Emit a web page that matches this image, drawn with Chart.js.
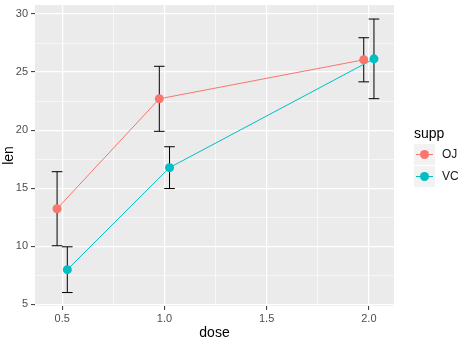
<!DOCTYPE html>
<html>
<head>
<meta charset="utf-8">
<script src="https://cdn.jsdelivr.net/npm/chart.js@4/dist/chart.umd.min.js"></script>
<style>
  html, body { margin: 0; padding: 0; background: #fff; }
  #wrap { width: 461px; height: 344px; position: relative; }
</style>
</head>
<body>
<div id="wrap"><canvas id="toothChart"></canvas></div>
<script>
// ToothGrowth: mean len with 95% CI, by dose and supp
const doses = [0.5, 1, 2];
const supps = ['OJ', 'VC'];
const ojMean = [13.23, 22.70, 26.06];
const vcMean = [7.98, 16.77, 26.14];
const ojLow = [10.04, 19.90, 24.16];
const ojHigh = [16.42, 25.50, 27.96];
const vcLow = [6.01, 14.97, 22.71];
const vcHigh = [9.95, 18.57, 29.57];
const xTicks = [0.5, 1.0, 1.5, 2.0];
const yTicks = [5, 10, 15, 20, 25, 30];

const dodge = 0.025;      // position_dodge half-width
const capHalf = 0.026;    // errorbar cap half-width
const colors = ['#F8766D', '#00BFC4'];

const means = [ojMean, vcMean];
const lows = [ojLow, vcLow];
const highs = [ojHigh, vcHigh];
const offsets = [-dodge, dodge];

const xMinor = [0.75, 1.25, 1.75];
const yMinor = [7.5, 12.5, 17.5, 22.5, 27.5];
const isMajorX = v => xTicks.some(t => Math.abs(t - v) < 1e-9);
const isMajorY = v => yTicks.some(t => Math.abs(t - v) < 1e-9);

const panelBg = {
    id: 'panelBg',
    beforeDraw(chart) {
        const { ctx, chartArea: a } = chart;
        ctx.save();
        ctx.fillStyle = '#EBEBEB';
        ctx.fillRect(a.left, a.top, a.right - a.left, a.bottom - a.top);
        ctx.restore();
    }
};

const errorBars = {
    id: 'errorBars',
    beforeDatasetsDraw(chart) {
        const { ctx, scales: { x, y } } = chart;
        ctx.save();
        ctx.strokeStyle = '#000000';
        ctx.lineWidth = 1;
        supps.forEach((s, i) => {
            doses.forEach((d, j) => {
                const xc = x.getPixelForValue(d + offsets[i]);
                const x0 = x.getPixelForValue(d + offsets[i] - capHalf);
                const x1 = x.getPixelForValue(d + offsets[i] + capHalf);
                const yl = y.getPixelForValue(lows[i][j]);
                const yh = y.getPixelForValue(highs[i][j]);
                ctx.beginPath();
                ctx.moveTo(xc, yl); ctx.lineTo(xc, yh);
                ctx.moveTo(x0, yl); ctx.lineTo(x1, yl);
                ctx.moveTo(x0, yh); ctx.lineTo(x1, yh);
                ctx.stroke();
            });
        });
        ctx.restore();
    }
};

const ggLegend = {
    id: 'ggLegend',
    afterDraw(chart) {
        const ctx = chart.ctx;
        const left = 414, top = 144, key = 21;
        ctx.save();
        ctx.fillStyle = '#000000';
        ctx.font = '14px "Liberation Sans", Arial, sans-serif';
        ctx.textAlign = 'left';
        ctx.textBaseline = 'middle';
        ctx.fillText('supp', left, 134);
        chart.data.datasets.forEach((ds, i) => {
            const ky = top + i * (key + 1);
            ctx.fillStyle = '#F2F2F2';
            ctx.fillRect(left, ky, key, key);
            const cy = ky + key / 2;
            ctx.strokeStyle = ds.borderColor;
            ctx.lineWidth = 1;
            ctx.beginPath();
            ctx.moveTo(left + 2, cy); ctx.lineTo(left + key - 2, cy);
            ctx.stroke();
            ctx.fillStyle = ds.backgroundColor;
            ctx.beginPath();
            ctx.arc(left + key / 2, cy, 4.5, 0, Math.PI * 2);
            ctx.fill();
            ctx.fillStyle = '#1A1A1A';
            ctx.font = '12px "Liberation Sans", Arial, sans-serif';
            ctx.fillText(ds.label, left + key + 7, cy);
        });
        ctx.restore();
    }
};

const datasets = supps.map((s, i) => ({
    label: s,
    data: doses.map((d, j) => ({ x: d + offsets[i], y: means[i][j] })),
    borderColor: colors[i],
    backgroundColor: colors[i],
    borderWidth: 1,
    pointRadius: 4.5,
    pointBorderWidth: 0,
    pointHoverRadius: 4.5,
    tension: 0,
    fill: false
}));

const tickFont = { family: '"Liberation Sans", Arial, sans-serif', size: 11 };
const titleFont = { family: '"Liberation Sans", Arial, sans-serif', size: 14, lineHeight: 1 };

new Chart(document.getElementById('toothChart'), {
    type: 'line',
    data: { datasets },
    options: {
        responsive: true,
        maintainAspectRatio: false,
        animation: false,
        layout: { padding: { top: 5, right: 67, left: 0, bottom: 0 } },
        plugins: {
            legend: { display: false },
            tooltip: { enabled: false }
        },
        scales: {
            x: {
                type: 'linear',
                min: 0.367,
                max: 2.123,
                afterBuildTicks: scale => {
                    scale.ticks = xTicks.concat(xMinor).sort((a, b) => a - b).map(v => ({ value: v }));
                },
                afterFit: scale => {
                    scale.height = 38;
                    scale.paddingLeft = 0;
                    scale.paddingRight = 0;
                },
                ticks: {
                    autoSkip: false,
                    maxRotation: 0,
                    padding: 2,
                    color: '#4D4D4D',
                    font: tickFont,
                    callback: v => isMajorX(v) ? v.toFixed(1) : ''
                },
                grid: {
                    color: '#FFFFFF',
                    lineWidth: c => isMajorX(c.tick.value) ? 1.2 : 0.6,
                    tickColor: c => isMajorX(c.tick.value) ? '#333333' : 'rgba(0,0,0,0)',
                    tickLength: 4,
                    tickWidth: 1
                },
                border: { display: false },
                title: { display: true, text: 'dose', color: '#000000', font: titleFont, padding: { top: 0, bottom: 4 } }
            },
            y: {
                type: 'linear',
                min: 4.85,
                max: 30.78,
                afterBuildTicks: scale => {
                    scale.ticks = yTicks.concat(yMinor).sort((a, b) => a - b).map(v => ({ value: v }));
                },
                afterFit: scale => {
                    scale.width = 35;
                    scale.paddingTop = 0;
                    scale.paddingBottom = 0;
                },
                ticks: {
                    autoSkip: false,
                    padding: 3,
                    color: '#4D4D4D',
                    font: tickFont,
                    callback: v => isMajorY(v) ? String(v) : ''
                },
                grid: {
                    color: '#FFFFFF',
                    lineWidth: c => isMajorY(c.tick.value) ? 1.2 : 0.6,
                    tickColor: c => isMajorY(c.tick.value) ? '#333333' : 'rgba(0,0,0,0)',
                    tickLength: 4,
                    tickWidth: 1
                },
                border: { display: false },
                title: { display: true, text: 'len', color: '#000000', font: titleFont, padding: { top: 2, bottom: 0 } }
            }
        }
    },
    plugins: [panelBg, errorBars, ggLegend]
});
</script>
</body>
</html>
